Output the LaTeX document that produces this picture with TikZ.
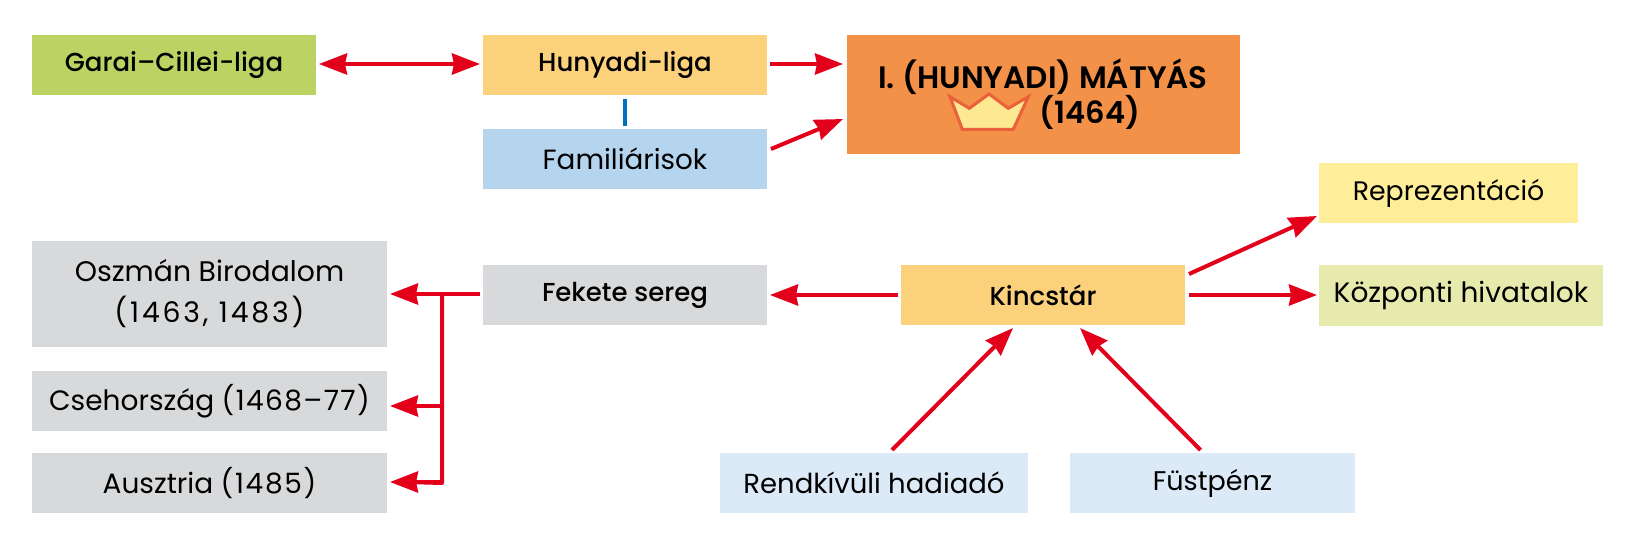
\documentclass[tikz,border=0pt]{standalone}
\usepackage{fontspec}
\setmainfont{Poppins}[BoldFont={Poppins Medium}]
\newfontfamily\titlefont{Poppins SemiBold}
\usetikzlibrary{arrows.meta,calc}
\definecolor{cGreen}{HTML}{BCD263}
\definecolor{cAmber}{HTML}{FCD17C}
\definecolor{cBlue}{HTML}{B5D5EE}
\definecolor{cOrange}{HTML}{F39149}
\definecolor{cGray}{HTML}{D8D9DB}
\definecolor{cLYellow}{HTML}{FEEE99}
\definecolor{cLGreen}{HTML}{E6EAAC}
\definecolor{cLBlue}{HTML}{DCE9F7}
\definecolor{cRed}{HTML}{E2001A}
\definecolor{cLink}{HTML}{0072BC}
\definecolor{cCrown}{HTML}{E9603A}
\definecolor{cCrownF}{HTML}{FDE992}
\newcommand{\dn}[1]{\raisebox{-6.5pt}{#1}}
\newcommand{\spc}[2]{{\addfontfeature{LetterSpace=#1}#2}}
\tikzset{
  box/.style={inner sep=0pt,outer sep=0pt,align=center,font=\fontsize{26}{41}\selectfont},
  fs/.style={font=\fontsize{#1}{41}\selectfont},
  arr/.style={draw=cRed,line width=4pt,-{Stealth[length=28pt,width=21pt,inset=2pt]}},
  darr/.style={draw=cRed,line width=4pt,{Stealth[length=28pt,width=21pt,inset=2pt]}-{Stealth[length=28pt,width=21pt,inset=2pt]}},
  trunk/.style={draw=cRed,line width=4pt,line cap=round,line join=round},
}
\begin{document}
\begin{tikzpicture}[x=1pt,y=-1pt]
\useasboundingbox (0,0) rectangle (1629,542);
\node[box,fill=cGreen,minimum width=284pt,minimum height=60pt] (garai) at (174,65) {\bfseries\dn{Garai–Cillei-liga}};
\node[box,fill=cAmber,minimum width=284pt,minimum height=60pt] (hunyadi) at (625,65) {\bfseries\dn{Hunyadi-liga}};
\node[box,fs=27.8,fill=cBlue,minimum width=284pt,minimum height=60pt] (famil) at (625,159) {\dn{Familiárisok}};
\node[box,fill=cOrange,minimum width=393pt,minimum height=119pt] (matyas) at (1043.5,94.5) {};
\node[inner sep=0pt,font=\fontsize{31}{36}\titlefont,anchor=base] (mname) at (1043,88) {I. (HUNYADI) MÁTYÁS};
\node[inner sep=0pt,font=\fontsize{30.5}{36}\titlefont,anchor=base] (myear) at (1090,123) {(1464)};
\draw[draw=cCrown,fill=cCrownF,line width=3pt,line join=miter]
  (950,96.7)--(969.3,108.3)--(989,94)--(1008.3,108.3)--(1028.3,96.7)--(1013.3,129.3)--(962.3,129.3)--cycle;
\node[box,fs=26.8,fill=cLYellow,minimum width=259pt,minimum height=60pt] (repr) at (1448.5,193) {\dn{Reprezentáció}};
\node[box,fs=28,fill=cLGreen,minimum width=284pt,minimum height=61pt] (kozp) at (1461,295) {\dn{Központi hivatalok}};
\node[box,fill=cAmber,minimum width=284pt,minimum height=60pt] (kincs) at (1043,295) {\bfseries\dn{Kincstár}};
\node[box,fill=cGray,minimum width=284pt,minimum height=60pt] (fekete) at (625,295) {\bfseries\dn{Fekete sereg}};
\node[box,fs=28.3,fill=cGray,minimum width=355pt,minimum height=106pt] (oszman) at (209.5,294) {\dn{Oszmán Birodalom}\\\dn{\spc{10}{(1463, 1483)}}};
\node[box,fs=28,fill=cGray,minimum width=355pt,minimum height=60pt] (cseh) at (209.5,401) {\dn{Csehország \spc{5}{(1468–77)}}};
\node[box,fs=28,fill=cGray,minimum width=355pt,minimum height=60pt] (ausz) at (209.5,483) {\dn{Ausztria \spc{6}{(1485)}}};
\node[box,fs=27.5,fill=cLBlue,minimum width=308pt,minimum height=60pt] (rend) at (874,483) {\dn{Rendkívüli hadiadó}};
\node[box,fs=27,fill=cLBlue,minimum width=285pt,minimum height=60pt] (fust) at (1212.5,483) {\dn{Füstpénz}};
\draw[cLink,line width=4pt] (hunyadi.south) ++(0,4) -- ($(famil.north)+(0,-3)$);
\draw[darr] ($(garai.east)+(3,-1)$) -- ($(hunyadi.west)+(-3,-1)$);
\draw[arr] ($(hunyadi.east)+(3,-1)$) -- ($(matyas.west)+(-4,-30.5)$);
\draw[arr] ($(famil.east)+(4,-10)$) -- ($(matyas.west)+(-4,24.5)$);
\draw[arr] ($(kincs.west)+(-3,0)$) -- ($(fekete.east)+(3,0)$);
\draw[arr] ($(kincs.east)+(4,-21)$) -- ($(repr.west)+(-2,23)$);
\draw[arr] ($(kincs.east)+(4,0)$) -- ($(kozp.west)+(-2,0)$);
\draw[arr] ($(rend.north)+(18,-3)$) -- ($(kincs.south)+(-30,3)$);
\draw[arr] ($(fust.north)+(-12,-3)$) -- ($(kincs.south)+(37,3)$);
\coordinate (junc) at (442,294);
\draw[arr] ($(fekete.west)+(-3,-1)$) -- ($(oszman.east)+(3,0)$);
\draw[trunk] (junc) -- (junc |- ausz.east) -- ($(ausz.east)+(20,-1)$);
\draw[arr] (junc |- cseh.east) ++(0,5) -- ($(cseh.east)+(3,5)$);
\draw[arr] (junc |- ausz.east) ++(0,-1) -- ($(ausz.east)+(3,-1)$);
\end{tikzpicture}
\end{document}
